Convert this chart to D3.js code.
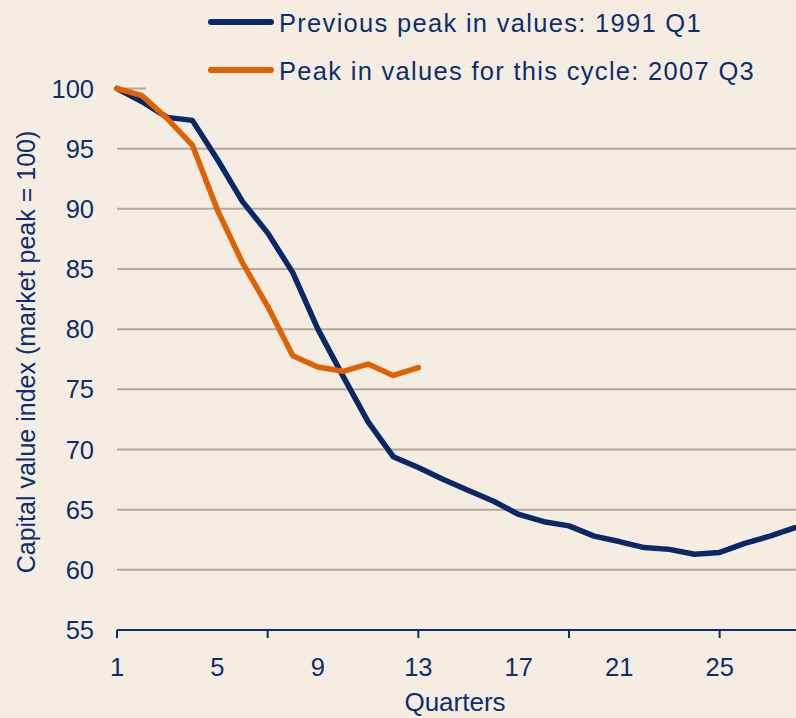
<!DOCTYPE html>
<html>
<head>
<meta charset="utf-8">
<script src="https://d3js.org/d3.v7.min.js"></script>
<style>
body { margin: 0; background: #f5ede1; }
svg { display: block; font-family: "Liberation Sans", Arial, sans-serif; }
.grid line { stroke: #b2aa9c; stroke-width: 2; }
</style>
</head>
<body>
<svg width="796" height="718"></svg>
<script>
// quarters since the market peak
var quarters = [1, 2, 3, 4, 5, 6, 7, 8, 9, 10, 11, 12, 13, 14,
                15, 16, 17, 18, 19, 20, 21, 22, 23, 24, 25, 26, 27, 28];
// previous peak 1991 Q1
var previous = [100, 98.9, 97.6, 97.35, 94.1, 90.6, 88.0, 84.7, 80.0, 76.1,
                72.3, 69.4, 68.5, 67.5, 66.6, 65.7, 64.6, 64.0, 63.65, 62.8,
                62.35, 61.85, 61.7, 61.3, 61.45, 62.2, 62.8, 63.5];
// this cycle, peak 2007 Q3
var current = [100, 99.4, 97.5, 95.3, 89.9, 85.5, 81.9, 77.8, 76.85, 76.5,
               77.1, 76.15, 76.8];

var yTicks = [55, 60, 65, 70, 75, 80, 85, 90, 95, 100];
var xLabels = [1, 5, 9, 13, 17, 21, 25];
var xTickMarks = [1, 7, 13, 19, 25];

var seriesNames = ["Previous peak in values: 1991 Q1",
                   "Peak in values for this cycle: 2007 Q3"];
var colors = ["#0a2768", "#de6103"];
var textColor = "#0e2d6e";

var svg = d3.select("svg"),
    width = +svg.attr("width"),
    height = +svg.attr("height");

svg.append("rect").attr("width", width).attr("height", height).attr("fill", "#f5ede1");

var x = d3.scaleLinear().domain([1, 28]).range([117, 795]);
var y = d3.scaleLinear().domain([55, 100]).range([630, 88.5]);

// horizontal gridlines
svg.append("g")
  .attr("class", "grid")
  .selectAll("line")
  .data(yTicks.filter(function(d) { return d > 55; }))
  .enter().append("line")
  .attr("x1", x(1)).attr("x2", width)
  .attr("y1", function(d) { return y(d); })
  .attr("y2", function(d) { return y(d); });

// y labels
svg.append("g")
  .selectAll("text")
  .data(yTicks)
  .enter().append("text")
  .attr("x", 94)
  .attr("y", function(d) { return y(d) + 9; })
  .attr("text-anchor", "end")
  .attr("fill", textColor)
  .style("font-size", "25.5px")
  .text(function(d) { return d; });

// x axis line + tick marks
svg.append("line")
  .attr("x1", x(1)).attr("x2", width)
  .attr("y1", y(55)).attr("y2", y(55))
  .attr("stroke", textColor).attr("stroke-width", 2);

svg.append("g")
  .selectAll("line")
  .data(xTickMarks)
  .enter().append("line")
  .attr("x1", function(d) { return x(d); })
  .attr("x2", function(d) { return x(d); })
  .attr("y1", y(55)).attr("y2", y(55) + 8)
  .attr("stroke", textColor).attr("stroke-width", 2);

svg.append("g")
  .selectAll("text")
  .data(xLabels)
  .enter().append("text")
  .attr("x", function(d) { return x(d); })
  .attr("y", 676)
  .attr("text-anchor", "middle")
  .attr("fill", textColor)
  .style("font-size", "25.5px")
  .text(function(d) { return d; });

// axis titles
svg.append("text")
  .attr("x", 455).attr("y", 711)
  .attr("text-anchor", "middle")
  .attr("fill", textColor)
  .style("font-size", "26px")
  .text("Quarters");

svg.append("text")
  .attr("transform", "translate(35,352) rotate(-90)")
  .attr("text-anchor", "middle")
  .attr("fill", textColor)
  .style("font-size", "25px")
  .text("Capital value index (market peak = 100)");

// legend (sits over the plot, hides the top gridline)
var legend = svg.append("g");
legend.append("rect")
  .attr("x", 146).attr("y", 0)
  .attr("width", width - 146).attr("height", 92)
  .attr("fill", "#f5ede1");

var legendY = [22, 70];
seriesNames.forEach(function(name, i) {
  legend.append("line")
    .attr("x1", 211).attr("x2", 271)
    .attr("y1", legendY[i]).attr("y2", legendY[i])
    .attr("stroke", colors[i]).attr("stroke-width", 6)
    .attr("stroke-linecap", "round");
  legend.append("text")
    .attr("x", 279).attr("y", legendY[i] + 10)
    .attr("fill", textColor)
    .style("font-size", "25.5px")
    .style("letter-spacing", "1.3px")
    .text(name);
});

// series lines
var line = d3.line()
  .x(function(d) { return x(d[0]); })
  .y(function(d) { return y(d[1]); });

[previous, current].forEach(function(vals, i) {
  svg.append("path")
    .datum(vals.map(function(v, j) { return [quarters[j], v]; }))
    .attr("fill", "none")
    .attr("stroke", colors[i])
    .attr("stroke-width", 5.5)
    .attr("stroke-linejoin", "round")
    .attr("stroke-linecap", "round")
    .attr("d", line);
});
</script>
</body>
</html>
